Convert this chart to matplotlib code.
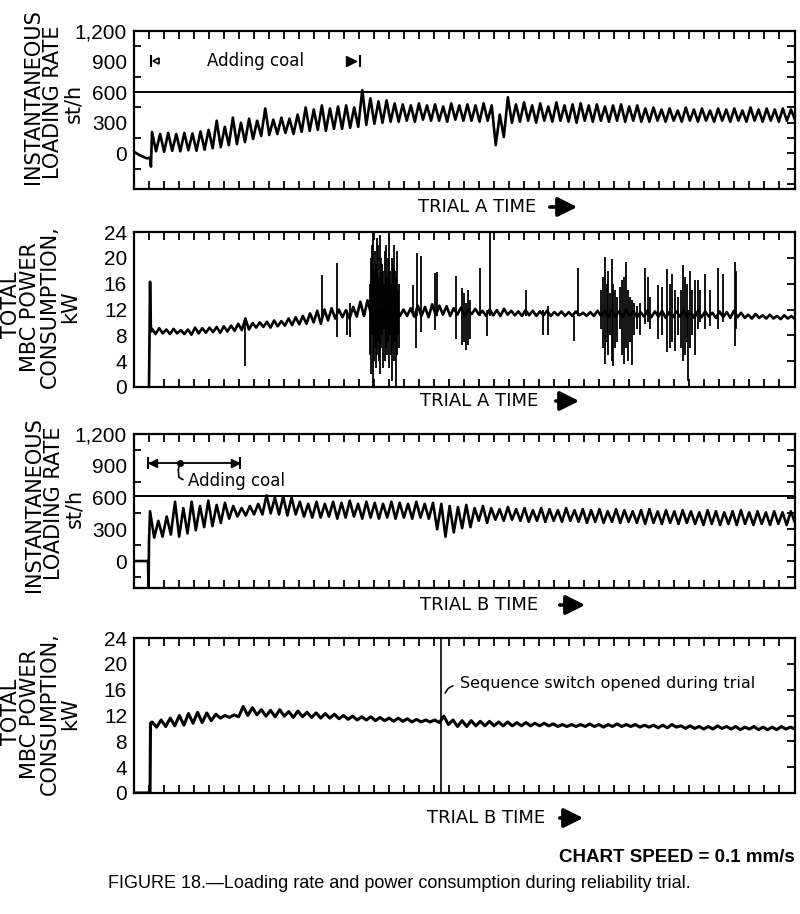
import numpy as np
import matplotlib
matplotlib.use('Agg')
import matplotlib.pyplot as plt
from matplotlib.patches import FancyArrowPatch

# ---------------- DATA (x in chart divisions, y in st/h or kW) ----------------
# Trial A - instantaneous loading rate, st/h
A_rate_head_x = [0.0, 0.4, 0.87, 1.07, 1.13]
A_rate_head_y = [15, -20, -50, -40, -130]
A_rate_span = [1.2, 44.07]
A_rate_peaks = [210, 190, 200, 190, 200, 195, 215,
                230, 320, 260, 350, 300, 340,
                320, 440, 330, 350, 340, 380,
                450, 430, 470, 440, 460, 470, 450,
                620,
                540, 510, 520, 490,
                480, 470, 490, 470, 480, 460, 490, 470, 480, 470, 490, 470,
                380,
                550,
                480, 500, 470, 490, 460, 500, 470, 480, 490, 470, 480, 460, 470, 480, 460, 470,
                440, 450, 430, 440, 420, 450, 430, 440, 420, 440, 430, 440, 420, 450, 430, 440, 430, 440, 430]
A_rate_troughs = [20, 15, 25, 20, 30, 25, 35,
                  50, 60, 80, 90, 110, 140,
                  170, 180, 190, 200, 190, 210,
                  220, 230, 220, 240, 240, 250, 260,
                  280,
                  290, 300, 310, 310,
                  320, 310, 330, 320, 320, 310, 330, 320, 320, 310, 320, 80,
                  160,
                  300,
                  310, 320, 300, 320, 310, 320, 310, 300, 320, 310, 320, 310, 320, 310, 320, 310,
                  310, 320, 310, 320, 310, 320, 310, 320, 310, 320, 310, 320, 310, 320, 310, 320, 310, 320, 330]
A_rate_limit = 600

# Trial A - total MBC power consumption, kW
A_pow_head_x = [1.0, 1.07, 1.13]
A_pow_head_y = [0, 16.3, 8.6]
A_pow_span = [1.2, 44.07]
A_pow_peaks = [9.0, 9.1, 8.9, 9.0, 8.8, 8.9, 9.2, 9.1, 9.2, 9.3, 9.4, 9.5, 9.8,
               10.6, 9.9, 10.0, 10.1, 10.3, 10.2, 10.6,
               10.8, 11.0, 11.4, 11.8, 12.0, 12.2,
               12.0, 11.9, 12.4, 13.2, 13.4,
               12.5, 12.0, 12.4, 12.2, 12.0,
               12.2, 12.6, 12.4, 12.8, 12.6, 12.5, 12.2, 12.3, 12.0, 12.1,
               11.8, 12.0, 11.9, 12.1, 11.8, 11.7, 11.9, 11.8, 11.7, 11.8, 11.6, 11.7, 11.6, 11.7, 11.5, 11.6, 11.8,
               11.8, 11.9, 11.7, 12.0, 11.8, 11.6, 11.9, 11.7, 11.8, 11.6, 11.7, 11.9, 11.6, 11.8, 11.7, 11.5, 11.7, 11.6, 11.8, 11.5,
               11.2, 11.3, 11.1, 11.2, 11.0, 11.1, 11.0]
A_pow_troughs = [8.2, 8.3, 8.2, 8.3, 8.2, 8.1, 8.3, 8.4, 8.5, 8.4, 8.6, 8.7, 8.8,
                 8.9, 9.2, 9.3, 9.2, 9.4, 9.5, 9.6,
                 9.7, 9.8, 10.0, 9.8, 10.3, 10.6,
                 10.8, 10.6, 10.9, 11.0, 11.2,
                 10.5, 11.0, 10.8, 11.0, 11.0,
                 10.9, 11.0, 10.8, 11.1, 11.2, 11.0, 11.2, 11.1, 11.3, 11.2,
                 11.0, 11.1, 11.0, 11.2, 11.1, 11.0, 11.1, 11.0, 11.1, 11.0, 11.1, 11.0, 11.0, 11.1, 11.0, 11.0, 11.0,
                 10.8, 10.9, 10.8, 11.0, 10.8, 10.9, 10.8, 10.9, 10.7, 10.8, 10.9, 10.8, 10.7, 10.8, 10.9, 10.7, 10.8, 10.7, 10.8, 10.7,
                 10.6, 10.7, 10.6, 10.6, 10.5, 10.6, 10.5]
# pen excursions (time, low, high)
A_pow_spike_x = [7.40, 12.53, 13.53, 14.20, 14.40,
                 15.73, 15.80, 15.87, 15.93, 16.00, 16.07, 16.13, 16.20, 16.27, 16.33,
                 16.40, 16.47, 16.53, 16.60, 16.67, 16.73, 16.80, 16.87, 16.93, 17.00,
                 17.07, 17.13, 17.20, 17.27, 17.33, 17.40, 17.47, 17.53, 17.60, 17.67,
                 18.60, 18.80, 18.87, 19.13, 20.07, 20.20, 21.47, 21.87, 22.00, 22.13,
                 22.27, 22.40, 23.07, 23.53, 23.73, 26.13, 27.27, 27.60, 29.33, 29.60,
                 31.13, 31.27, 31.40, 31.53, 31.60, 31.73, 31.87, 31.93, 32.07, 32.20,
                 32.40, 32.53, 32.67, 32.80, 32.93, 33.07, 33.20, 33.33, 33.53, 33.73,
                 34.07, 34.27, 34.40, 34.93, 35.20, 35.53, 35.73, 35.87, 36.07, 36.27,
                 36.47, 36.60, 36.73, 36.87, 36.93, 37.07, 37.20, 37.40, 37.60, 37.73,
                 38.07, 38.40, 38.93, 39.27, 40.07, 40.13]
A_pow_spike_lo = [3.2, 10.5, 7.7, 8.0, 7.8,
                  5, 2, 8, 0, 4, 6, 3, 5, 7, 4,
                  2, 6, 8, 3, 9, 4, 6, 5, 7, 3,
                  8, 5, 1, 6, 4, 7, 0, 5, 8, 6,
                  11, 6.0, 11, 8.5, 8.9, 11, 7.4, 6.5, 7, 5.7,
                  6.5, 7.5, 11, 7.9, 11, 11, 8.1, 8.1, 7.2, 11,
                  9, 6, 3.5, 7, 5, 8, 4, 3.3, 6, 7,
                  9, 5, 3.5, 6, 4, 7, 3.4, 8, 9, 8,
                  9.8, 10, 9, 7.5, 8, 5.4, 6, 7, 5.5, 8,
                  6, 4, 5, 7, 0.9, 6, 8, 5, 9, 10,
                  9, 9.5, 9, 10, 6.4, 9]
A_pow_spike_hi = [10.5, 17.3, 19.2, 12.0, 13.0,
                  16, 20, 22, 24, 18, 21, 19, 23, 22, 17,
                  23.5, 20, 19, 18, 16, 21, 22, 17, 20, 24,
                  18, 16, 20, 19, 22, 18, 17, 21, 15, 16,
                  15.8, 12, 20.8, 20.3, 17.6, 17.8, 17.2, 15.4, 14.5, 13,
                  15, 13.5, 18.5, 12, 24, 15, 12, 12.5, 11, 18.5,
                  15, 17, 20.1, 16, 18, 14.5, 19.8, 16, 15, 14,
                  15.5, 16.5, 17, 19.3, 15, 14, 13.5, 13, 12.5, 13,
                  18.5, 17, 14, 15.8, 15.5, 18.2, 16, 17.5, 15, 14,
                  15, 18.9, 17, 16, 12, 18, 15, 16.5, 16.5, 15,
                  17.5, 15, 18.4, 17.5, 19.4, 18]

# Trial B - instantaneous loading rate, st/h
B_rate_head_x = [0.0, 0.93, 0.97, 1.0]
B_rate_head_y = [0, 0, -255, 180]
B_rate_span = [1.07, 44.07]
B_rate_peaks = [470, 380,
                420, 560,
                500, 560, 520, 570, 530, 550,
                520, 500, 520, 540,
                620, 600, 610, 600, 560, 540,
                560, 540, 560, 550, 570, 540, 560, 550, 540, 560, 550, 540, 560, 540, 550, 540,
                520, 510, 530, 500, 520,
                500, 490, 510, 490, 500, 480, 500, 490, 480, 500, 480, 490, 480, 490, 470, 490, 480, 470,
                480, 490, 470, 480, 470, 480, 470, 460, 480, 470, 460, 470, 480, 460, 470, 460, 470, 460, 470]
B_rate_troughs = [220, 230,
                  250, 230,
                  260, 290, 320, 330, 360, 400,
                  420, 430, 440, 440,
                  450, 440, 430, 440, 420, 410,
                  410, 420, 400, 410, 420, 400, 410, 400, 410, 400, 410, 400, 410, 400, 300, 230,
                  270, 310, 320, 380, 360,
                  390, 380, 390, 380, 370, 380, 370, 380, 370, 380, 370, 360, 370, 360, 370, 360, 370, 360,
                  350, 360, 350, 360, 350, 360, 350, 340, 350, 340, 350, 340, 350, 340, 350, 340, 350, 340, 360]
B_rate_limit = 615

# Trial B - total MBC power consumption, kW
B_pow_head_x = [0.0, 1.07, 1.1]
B_pow_head_y = [0, 0, 10.8]
B_pow_span = [1.2, 44.07]
B_pow_peaks = [11.0, 11.3, 11.6, 12.0, 12.3, 12.5, 12.4,
               12.2, 12.0, 12.1,
               13.4, 13.2,
               12.9, 12.8, 12.9, 12.6, 12.7, 12.5, 12.4, 12.3, 12.2,
               12.0, 11.9, 11.8, 11.8, 11.7, 11.6, 11.6, 11.5, 11.4, 11.3, 11.3,
               11.9,
               11.3, 11.2, 11.2, 11.1, 11.1, 11.0, 11.0, 10.9, 10.9, 10.8, 10.8, 10.7,
               10.6, 10.6, 10.6, 10.7, 10.6, 10.6, 10.7, 10.6, 10.6, 10.5, 10.5, 10.5, 10.6,
               10.4, 10.4, 10.3, 10.3, 10.4, 10.3, 10.3, 10.2, 10.3, 10.2, 10.2, 10.3, 10.2]
B_pow_troughs = [10.2, 10.3, 10.4, 10.5, 10.8, 10.9, 11.2,
                 11.6, 11.7, 11.8,
                 12.0, 12.1,
                 11.9, 11.8, 11.9, 11.7, 11.8, 11.7, 11.6, 11.6, 11.5,
                 11.4, 11.3, 11.3, 11.2, 11.2, 11.1, 11.1, 11.0, 11.0, 11.0, 10.9,
                 10.6,
                 10.3, 10.3, 10.4, 10.4, 10.4, 10.4, 10.4, 10.4, 10.4, 10.4, 10.4, 10.3,
                 10.3, 10.3, 10.3, 10.3, 10.2, 10.3, 10.3, 10.3, 10.2, 10.2, 10.1, 10.1, 10.2,
                 10.0, 10.0, 9.9, 9.9, 10.0, 9.9, 9.8, 9.9, 9.8, 9.8, 9.8, 9.9, 9.9]
B_switch_time = 20.47

X_MAX = 44.07
X_TICKS = list(range(1, 44))
RATE_LABELS = [0, 300, 600, 900, 1200]
POW_LABELS = [0, 4, 8, 12, 16, 20, 24]

# ---------------- FIGURE ----------------
W, H = 800, 914
fig = plt.figure(figsize=(W / 100, H / 100), dpi=100)
fig.patch.set_facecolor('white')
TICKFONT = ['Liberation Sans', 'DejaVu Sans']
LBLFONT = ['DejaVu Sans']


def fx(px):
    return px / W


def fy(py):
    return 1 - py / H


def build(head_x, head_y, span, peaks, troughs):
    n = min(len(peaks), len(troughs))
    xs = np.linspace(span[0], span[1], 2 * n)
    ys = np.empty(2 * n)
    ys[0::2] = peaks[:n]
    ys[1::2] = troughs[:n]
    return np.concatenate([head_x, xs]), np.concatenate([head_y, ys])


def make_axes(top, bottom, ylim, labels, left_minor, right_ticks):
    ax = fig.add_axes([fx(134), fy(bottom), fx(795) - fx(134), (bottom - top) / H])
    ax.set_xlim(0, X_MAX)
    ax.set_ylim(*ylim)
    for s in ax.spines.values():
        s.set_linewidth(1.6)
    ax.set_xticks(X_TICKS)
    ax.tick_params(axis='x', which='major', direction='in', top=True, bottom=True,
                   length=6, width=1.3, labelbottom=False)
    ax.set_yticks(labels)
    ax.set_yticklabels([f"{v:,}" for v in labels], fontfamily=TICKFONT, fontsize=15)
    ax.set_yticks(left_minor, minor=True)
    ax.tick_params(axis='y', which='major', length=0, pad=5)
    ax.tick_params(axis='y', which='minor', direction='in', length=5, width=1.3)
    tw = ax.twinx()
    tw.set_ylim(*ylim)
    tw.set_yticks(right_ticks)
    tw.tick_params(axis='y', direction='in', length=6, width=1.3, labelright=False)
    for s in tw.spines.values():
        s.set_visible(False)
    return ax


# Panel 1
ax1 = make_axes(31, 189, (-350, 1200), RATE_LABELS,
                [-150, 150, 450, 750, 1050], list(range(-300, 1200, 150)))
x, y = build(A_rate_head_x, A_rate_head_y, A_rate_span, A_rate_peaks, A_rate_troughs)
ax1.plot(x, y, color='k', lw=1.9)
ax1.axhline(A_rate_limit, color='k', lw=1.4)
ax1.text(4.87, 905, 'Adding coal', fontsize=12, family=LBLFONT, va='center', ha='left')
ax1.plot([1.13], [905], marker='|', color='k', ms=9, mew=1.5)
ax1.plot([1.5], [905], marker='<', color='k', ms=5, mfc='white', mew=1.2)
ax1.plot([14.5], [905], marker='>', color='k', ms=7)
ax1.plot([15.1], [905], marker='|', color='k', ms=9, mew=1.5)

# Panel 2
ax2 = make_axes(232, 387, (0, 24), POW_LABELS, [], [4, 8, 12, 16, 20])
x, y = build(A_pow_head_x, A_pow_head_y, A_pow_span, A_pow_peaks, A_pow_troughs)
ax2.plot(x, y, color='k', lw=1.9)
ax2.vlines(A_pow_spike_x, A_pow_spike_lo, A_pow_spike_hi, color='k', lw=1.3)

# Panel 3
ax3 = make_axes(434, 588, (-255, 1200), RATE_LABELS,
                [-150, 150, 450, 750, 1050], list(range(-150, 1200, 150)))
x, y = build(B_rate_head_x, B_rate_head_y, B_rate_span, B_rate_peaks, B_rate_troughs)
ax3.plot(x, y, color='k', lw=1.9)
ax3.axhline(B_rate_limit, color='k', lw=1.4)
ax3.plot([0.93, 7.07], [925, 925], color='k', lw=1.3)
ax3.plot([0.93], [925], marker='|', color='k', ms=9, mew=1.5)
ax3.plot([7.07], [925], marker='|', color='k', ms=9, mew=1.5)
ax3.plot([1.25], [925], marker='<', color='k', ms=6)
ax3.plot([6.75], [925], marker='>', color='k', ms=6)
ax3.plot([3.07], [925], marker='o', color='k', ms=4)
ax3.plot([3.07, 2.95, 3.0, 3.25], [925, 860, 790, 770], color='k', lw=1.2)
ax3.text(3.6, 752, 'Adding coal', fontsize=12, family=LBLFONT, va='center', ha='left')

# Panel 4
ax4 = make_axes(638, 793, (0, 24), POW_LABELS, [], [4, 8, 12, 16, 20])
x, y = build(B_pow_head_x, B_pow_head_y, B_pow_span, B_pow_peaks, B_pow_troughs)
ax4.plot(x, y, color='k', lw=2.2)
ax4.vlines([B_switch_time], 0, 24, color='k', lw=1.2)
ax4.plot([20.75, 20.95, 21.25], [15.5, 16.2, 16.6], color='k', lw=1.1)
ax4.text(21.73, 17.0, 'Sequence switch opened during trial', fontsize=11.5,
         family=LBLFONT, va='center', ha='left')


# y-axis titles
def vlabel(px, py, s):
    fig.text(fx(px), fy(py), s, rotation=90, ha='center', va='center',
             fontsize=15, family=LBLFONT)


vlabel(33, 97, 'INSTANTANEOUS')
vlabel(53, 102, 'LOADING RATE')
vlabel(73, 103, 'st/h')
for base in (307, 714):
    vlabel(11, base - 2, 'TOTAL')
    vlabel(30, base, 'MBC POWER')
    vlabel(50, base, 'CONSUMPTION,')
    vlabel(70, base, 'kW')
vlabel(34, 505, 'INSTANTANEOUS')
vlabel(54, 503, 'LOADING RATE')
vlabel(74, 508, 'st/h')


# time labels with arrows
def timelabel(px, py, s, ax0, ax1_):
    fig.text(fx(px), fy(py), s, ha='left', va='center', fontsize=13, family=LBLFONT)
    arr = FancyArrowPatch((fx(ax0), fy(py)), (fx(ax1_), fy(py)), transform=fig.transFigure,
                          arrowstyle='-|>,head_length=0.9,head_width=0.45',
                          mutation_scale=13, lw=2.6, color='k')
    fig.add_artist(arr)


timelabel(418, 207, 'TRIAL A TIME', 547, 580)
timelabel(420, 401, 'TRIAL A TIME', 553, 582)
timelabel(420, 605, 'TRIAL B TIME', 557, 588)
timelabel(427, 818, 'TRIAL B TIME', 557, 586)

fig.text(fx(795), fy(857), 'CHART SPEED = 0.1 mm/s', ha='right', va='center',
         fontsize=13.5, fontweight='bold', family=['Liberation Sans', 'DejaVu Sans'])
fig.text(fx(399), fy(884), 'FIGURE 18.\u2014Loading rate and power consumption during reliability trial.',
         ha='center', va='center', fontsize=13,
         family=['Liberation Sans', 'DejaVu Sans'])

fig.savefig('out.png', dpi=100, facecolor='white')
